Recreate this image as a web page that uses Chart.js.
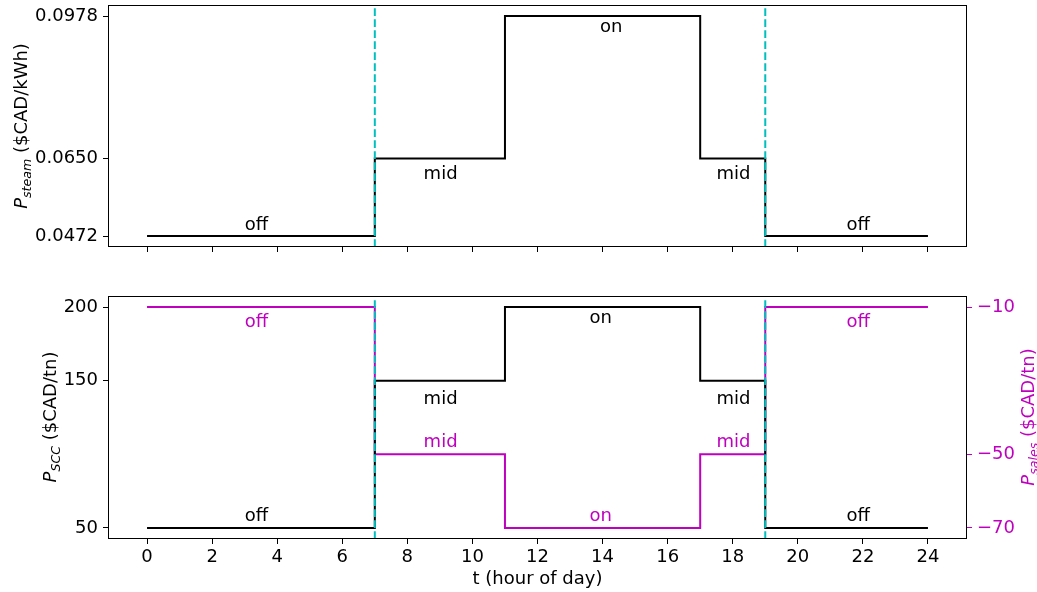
<!DOCTYPE html>
<html>
<head>
<meta charset="utf-8">
<script src="https://cdn.jsdelivr.net/npm/chart.js@4.4.1/dist/chart.umd.min.js"></script>
<style>
  body { margin: 0; background: #fff; }
  canvas { position: absolute; left: 0; }
  #top { top: 0; }
  #bottom { top: 270px; }
</style>
</head>
<body>
<canvas id="top" width="1037" height="270"></canvas>
<canvas id="bottom" width="1037" height="322"></canvas>
<script>
// step prices over the day (value holds until the next hour)
const hours = [0, 7, 11, 17, 19, 24];
const steamPrice = [0.0472, 0.065, 0.0978, 0.065, 0.0472, 0.0472];
const sccPrice = [50, 150, 200, 150, 50, 50];
const salesPrice = [-10, -50, -70, -50, -10, -10];
const switchHours = [7, 19];

const xTicks = [0, 2, 4, 6, 8, 10, 12, 14, 16, 18, 20, 22, 24];
const steamTicks = [0.0472, 0.065, 0.0978];
const sccTicks = [50, 150, 200];
const salesTicks = [-70, -50, -10];

// period labels, placed in data units
const periodNames = ["off", "mid", "on", "mid", "off"];
const steamLabelX = [3, 8.5, 13.92, 17.5, 21.5];
const steamLabelY = [0.04857, 0.06042, 0.09414, 0.06042, 0.04857];
const sccLabelX = [3, 8.5, 13.6, 17.5, 21.5];
const sccLabelY = [54.8, 134.5, 189, 134.5, 54.8];
const salesLabelX = [3, 8.5, 13.6, 17.5, 21.5];
const salesLabelY = [-15.5, -48, -68.1, -48, -15.5];

const FONT = "'DejaVu Sans', sans-serif";
const BLACK = "#000000";
const MAGENTA = "#bf00bf";
const CYAN = "#00bfbf";

function points(ys) {
  return hours.map((h, i) => ({ x: h, y: ys[i] }));
}

function axis(min, max, ticks, opts) {
  return {
    type: "linear",
    position: opts.position,
    min: min,
    max: max,
    afterBuildTicks: (s) => {
      s.ticks = ticks.map((v) => ({ value: v }));
    },
    afterFit: (s) => {
      if (opts.width) s.width = opts.width;
      if (opts.height) s.height = opts.height;
      s.paddingTop = 0;
      s.paddingBottom = 0;
      s.paddingLeft = 0;
      s.paddingRight = 0;
    },
    grid: {
      drawOnChartArea: false,
      drawTicks: true,
      tickLength: 5,
      tickColor: opts.color || BLACK,
      tickWidth: 1,
    },
    border: { display: false },
    ticks: {
      display: opts.labels !== false,
      color: opts.color || BLACK,
      font: { family: FONT, size: 18 },
      padding: opts.pad || 5,
      autoSkip: false,
      maxRotation: 0,
      callback: opts.fmt || ((v) => String(v)),
    },
  };
}

function stepSet(ys, color, axisId) {
  return {
    data: points(ys),
    yAxisID: axisId,
    borderColor: color,
    borderWidth: 2,
    stepped: true,
    pointRadius: 0,
    fill: false,
  };
}

function drawTitle(ctx, x, yc, parts, color) {
  let total = 0;
  parts.forEach((p) => {
    ctx.font = (p.italic ? "italic " : "") + (p.sub ? 12.6 : 18) + "px " + FONT;
    p.w = ctx.measureText(p.text).width;
    total += p.w;
  });
  ctx.save();
  ctx.translate(x, yc);
  ctx.rotate(-Math.PI / 2);
  ctx.fillStyle = color;
  ctx.textBaseline = "alphabetic";
  ctx.textAlign = "left";
  let cur = -total / 2;
  parts.forEach((p) => {
    ctx.font = (p.italic ? "italic " : "") + (p.sub ? 12.6 : 18) + "px " + FONT;
    ctx.fillText(p.text, cur, p.sub ? 3.5 : 0);
    cur += p.w;
  });
  ctx.restore();
}

const extras = {
  id: "extras",
  afterDraw(chart, args, opts) {
    const ctx = chart.ctx;
    const area = chart.chartArea;
    const xs = chart.scales.x;

    ctx.save();
    ctx.beginPath();
    ctx.rect(area.left, area.top, area.right - area.left, area.bottom - area.top);
    ctx.clip();
    ctx.strokeStyle = CYAN;
    ctx.lineWidth = 2;
    ctx.setLineDash([7.7, 3.3]);
    switchHours.forEach((h) => {
      const px = xs.getPixelForValue(h);
      ctx.beginPath();
      ctx.moveTo(px, area.bottom);
      ctx.lineTo(px, area.top);
      ctx.stroke();
    });
    ctx.restore();

    ctx.save();
    ctx.strokeStyle = BLACK;
    ctx.lineWidth = 1;
    ctx.strokeRect(area.left + 0.5, area.top + 0.5, area.right - area.left - 1, area.bottom - area.top - 1);
    ctx.restore();

    ctx.save();
    ctx.font = "18px " + FONT;
    ctx.textAlign = "left";
    ctx.textBaseline = "alphabetic";
    opts.labels.forEach((set) => {
      const ys = chart.scales[set.axis];
      ctx.fillStyle = set.color;
      periodNames.forEach((name, i) => {
        ctx.fillText(name, xs.getPixelForValue(set.xs[i]), ys.getPixelForValue(set.ys[i]));
      });
    });
    ctx.restore();

    opts.titles.forEach((t) => drawTitle(ctx, t.x, t.y, t.parts, t.color));

    if (opts.xTitle) {
      ctx.save();
      ctx.font = "18px " + FONT;
      ctx.fillStyle = BLACK;
      ctx.textAlign = "center";
      ctx.textBaseline = "alphabetic";
      ctx.fillText(opts.xTitle, (area.left + area.right) / 2, opts.xTitleY);
      ctx.restore();
    }
  },
};

new Chart(document.getElementById("top"), {
  type: "line",
  data: { datasets: [stepSet(steamPrice, BLACK, "y")] },
  options: {
    responsive: false,
    animation: false,
    devicePixelRatio: 1,
    layout: { padding: { top: 5, right: 70, left: 0, bottom: 0 } },
    scales: {
      x: axis(-1.2, 25.2, xTicks, { position: "bottom", height: 23, labels: false }),
      y: axis(0.04467, 0.10033, steamTicks, {
        position: "left",
        width: 108,
        fmt: (v) => v.toFixed(4),
      }),
    },
    plugins: {
      legend: { display: false },
      tooltip: { enabled: false },
      extras: {
        labels: [{ axis: "y", color: BLACK, xs: steamLabelX, ys: steamLabelY }],
        titles: [
          {
            x: 27,
            y: 126,
            color: BLACK,
            parts: [
              { text: "P", italic: true },
              { text: "steam", italic: true, sub: true },
              { text: " ($CAD/kWh)" },
            ],
          },
        ],
      },
    },
  },
  plugins: [extras],
});

new Chart(document.getElementById("bottom"), {
  type: "line",
  data: {
    datasets: [stepSet(sccPrice, BLACK, "y"), stepSet(salesPrice, MAGENTA, "y2")],
  },
  options: {
    responsive: false,
    animation: false,
    devicePixelRatio: 1,
    layout: { padding: { top: 26, right: 0, left: 0, bottom: 0 } },
    scales: {
      x: axis(-1.2, 25.2, xTicks, { position: "bottom", height: 53, pad: 3 }),
      y: axis(42.5, 207.5, sccTicks, { position: "left", width: 108 }),
      y2: axis(-73, -7, salesTicks, {
        position: "right",
        width: 70,
        color: MAGENTA,
        fmt: (v) => "\u2212" + Math.abs(v),
      }),
    },
    plugins: {
      legend: { display: false },
      tooltip: { enabled: false },
      extras: {
        labels: [
          { axis: "y", color: BLACK, xs: sccLabelX, ys: sccLabelY },
          { axis: "y2", color: MAGENTA, xs: salesLabelX, ys: salesLabelY },
        ],
        titles: [
          {
            x: 56,
            y: 147,
            color: BLACK,
            parts: [
              { text: "P", italic: true },
              { text: "SCC", italic: true, sub: true },
              { text: " ($CAD/tn)" },
            ],
          },
          {
            x: 1034,
            y: 147,
            color: MAGENTA,
            parts: [
              { text: "P", italic: true },
              { text: "sales", italic: true, sub: true },
              { text: " ($CAD/tn)" },
            ],
          },
        ],
        xTitle: "t (hour of day)",
        xTitleY: 314,
      },
    },
  },
  plugins: [extras],
});
</script>
</body>
</html>
